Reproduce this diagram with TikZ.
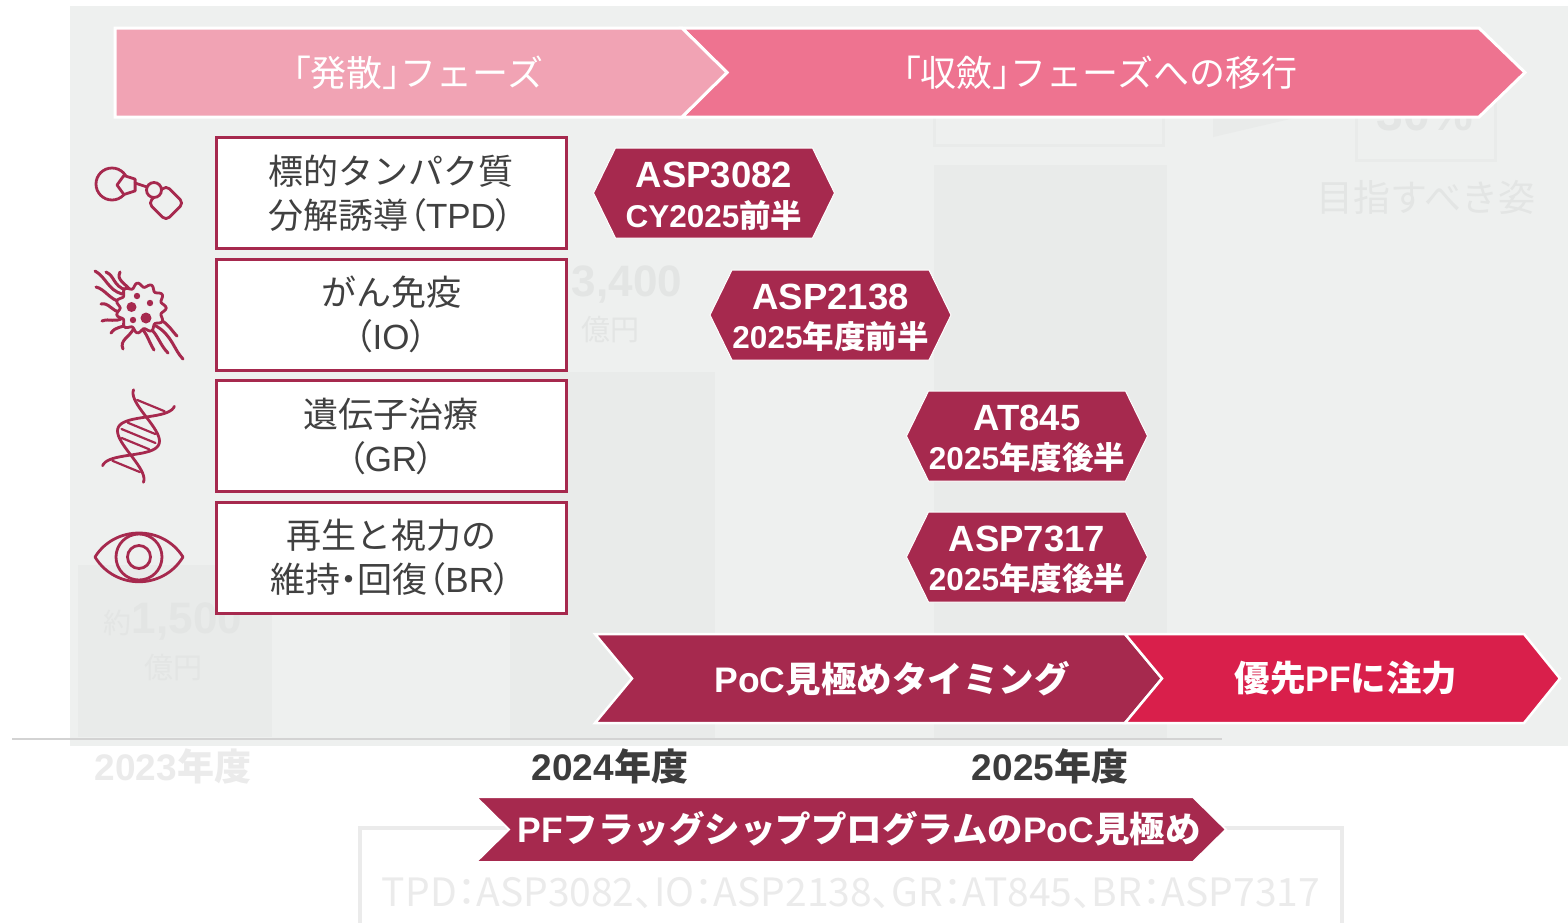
\documentclass[tikz,border=0pt]{standalone}
\usepackage{fontspec}
\setmainfont{Noto Sans CJK JP}
\newfontfamily\jpfont{Noto Sans CJK JP}
\newfontfamily\jppalt[RawFeature=+palt]{Noto Sans CJK JP}
\newfontfamily\latfont{Liberation Sans}
\usetikzlibrary{shapes.geometric}

\definecolor{panel}{HTML}{EEF0EF}
\definecolor{ghostfill}{HTML}{E9EBEA}
\definecolor{ghosttext}{HTML}{E3E5E4}
\definecolor{ghostwhite}{HTML}{EBEBEB}
\definecolor{lightpink}{HTML}{F1A3B4}
\definecolor{pink}{HTML}{EE7390}
\definecolor{maroon}{HTML}{A6294E}
\definecolor{signalred}{HTML}{D91F4B}
\definecolor{textgrey}{HTML}{404040}
\definecolor{yeargrey}{HTML}{3C3C3C}

\newcommand\LatB[1]{{\latfont\bfseries #1}}
\newcommand\Lat[1]{{\latfont #1}}
\newcommand\JpB[1]{{\jpfont\bfseries #1}}
\newcommand\pct[1]{{\jppalt #1}}
\newcommand\fsz[2]{\fontsize{#1}{#2}\selectfont}

% elongated hexagon tag with a two-line label
\newcommand\badge[5]{%
  \begin{scope}[shift={(#2,#3)}]
    \fill[maroon, draw=white, line width=1pt]
      (-120.5,0) -- (-98.5,-45) -- (98.5,-45) -- (120.5,0) -- (98.5,45) -- (-98.5,45) -- cycle;
    \node[badgetop] (#1a) at (0,-18) {#4};
    \node[badgebot] (#1b) at (0,22) {#5};
  \end{scope}}

\tikzset{
  icon/.style={draw=maroon, line width=2.8pt, line cap=round, line join=round},
  tentacle/.style={draw=maroon, line width=3pt, line cap=round},
  pfbox/.style={draw=maroon, line width=3pt, fill=white, minimum width=350pt,
    minimum height=111pt, inner sep=0pt, align=center, text=textgrey,
    font=\jpfont\fsz{35}{44}},
  bannertext/.style={text=white, inner sep=0pt, font=\jpfont\fsz{36}{40}},
  badgetop/.style={text=white, inner sep=0pt, font=\latfont\bfseries\fsz{36.5}{40}},
  badgebot/.style={text=white, inner sep=0pt, font=\fsz{31.5}{36}},
  chevtext/.style={text=white, inner sep=0pt, font=\fsz{35.5}{40}},
  yeartext/.style={text=yeargrey, inner sep=0pt, font=\fsz{37}{40}},
  ghost/.style={text=ghosttext, inner sep=0pt},
}

\begin{document}
\begin{tikzpicture}[x=1pt, y=-1pt]
\useasboundingbox (0,0) rectangle (1568,922);
\fill[white] (0,0) rectangle (1568,922);

% grey panel with faded background chart
\fill[panel] (70,6) rectangle (1568,746);
\fill[ghostfill] (78,565) rectangle (272,737);
\fill[ghostfill] (510,372) rectangle (715,740);
\fill[ghostfill] (934,165) rectangle (1167,740);
\fill[ghostfill] (1213,137) -- (1213,112) -- (1320,112) -- cycle;
\draw[ghostfill, line width=3pt] (934,90) rectangle (1163,145);
\draw[ghostfill, line width=3pt] (1356,95) rectangle (1495,160);
\node[ghost, font=\latfont\bfseries\fsz{48}{50}] (g30) at (1425,114) {30\%};
\node[ghost, font=\fsz{37}{40}] (ggoal) at (1426,197) {目指すべき姿};
\node[ghost, font=\latfont\bfseries\fsz{44}{48}] (g3400) at (627,285) {3,400};
\node[ghost, font=\fsz{29}{32}] (g3400u) at (610,330) {億円};
\node[ghost, font=\fsz{44}{48}] (g1500) at (173,622) {{\fsz{28}{30}約}\LatB{1,500}};
\node[ghost, font=\fsz{29}{32}] (g1500u) at (173,668) {億円};
\draw[line width=2pt, color=ghostwhite!90!black] (12,739) -- (1222,739);

% faded labels below the panel
\node[ghost, text=ghostwhite, font=\fsz{37}{40}] (g2023) at (173,766) {\LatB{2023}\JpB{年度}};
\draw[ghostwhite, line width=3.5pt] (360,828) rectangle (1342,940);
\node[ghost, text=ghostwhite, font=\jppalt\fsz{39}{42}] (gprog) at (851,893)
  {TPD：ASP3082、IO：ASP2138、GR：AT845、BR：ASP7317};

% phase banners
\fill[pink, draw=white, line width=3pt]
  (682,28) -- (1479,28) -- (1525,72.5) -- (1479,117) -- (682,117) -- (727,72.5) -- cycle;
\fill[lightpink, draw=white, line width=3pt]
  (115,28) -- (682,28) -- (727,72.5) -- (682,117) -- (115,117) -- cycle;
\node[bannertext] (ph1) at (418,73) {\pct{「}発散\pct{」}フェーズ};
\node[bannertext] (ph2) at (1100,73) {\pct{「}収斂\pct{」}フェーズへの移行};

% icon: protein degrader
\draw[icon] (112,184) circle[radius=16pt];
\draw[icon, fill=panel] (117,185) -- (123.9,194.5) -- (135.1,190.9) -- (135.1,179.1) -- (123.9,175.5) -- cycle;
\draw[icon] (135.1,183) -- (147,187);
\draw[icon, rounded corners=5pt, rotate around={45:(166,203)}] (153.5,190.5) rectangle (178.5,215.5);
\draw[icon, fill=panel] (154,190) circle[radius=7.5pt];

% icon: cancer cell
\draw[tentacle] (95,271) .. controls (106,277) and (108,290) .. (122,294);
\draw[tentacle] (106,272) .. controls (115,276) and (113,286) .. (126,290);
\draw[tentacle] (120,272) .. controls (116,280) and (125,283) .. (130,290);
\draw[tentacle] (96,287) .. controls (105,289) and (110,300) .. (121,302);
\draw[tentacle] (101,304) .. controls (109,302) and (112,312) .. (121,312);
\draw[tentacle] (102,321) .. controls (110,318) and (114,323) .. (123,318);
\draw[tentacle] (111,333) .. controls (116,326) and (122,328) .. (128,324);
\draw[tentacle] (123,349) .. controls (119,340) and (130,337) .. (134,328);
\draw[tentacle] (183,359) .. controls (174,350) and (172,335) .. (156,326);
\draw[tentacle] (168,353) .. controls (160,345) and (158,335) .. (150,328);
\draw[tentacle] (154,350) .. controls (149,342) and (148,336) .. (143,330);
\draw[tentacle] (177,336) .. controls (171,330) and (168,323) .. (160,320);
\draw[icon, fill=panel] plot[smooth cycle, samples=90, domain=0:356]
  ({141+(23+2.2*cos(11*\x))*cos(\x)},{308+(23+2.2*cos(11*\x))*sin(\x)});
\fill[maroon] (131.5,307) circle[radius=5pt];
\fill[maroon] (137,296) circle[radius=3.2pt];
\fill[maroon] (150,303) circle[radius=3.2pt];
\fill[maroon] (133,320) circle[radius=3.2pt];
\fill[maroon] (146,318) circle[radius=5.5pt];

% icon: DNA double helix
\draw[icon] plot[smooth, samples=40, domain=0:1]
  ({123+31*\x+20.4*cos(360*\x)},{474-76*\x+8.3*cos(360*\x)});
\draw[icon] plot[smooth, samples=40, domain=0:1]
  ({123+31*\x-20.4*cos(360*\x)},{474-76*\x-8.3*cos(360*\x)});
\foreach \t in {0.1,0.4,0.5,0.6,0.9}
  \draw[icon, line width=2.2pt]
    ({123+31*\t+17*cos(360*\t)},{474-76*\t+7*cos(360*\t)}) --
    ({123+31*\t-17*cos(360*\t)},{474-76*\t-7*cos(360*\t)});

% icon: eye
\draw[icon] (95,557) .. controls (115,525) and (163,525) .. (183,557)
  .. controls (163,590) and (115,590) .. (95,557) -- cycle;
\draw[icon] (139,557) circle[radius=23pt];
\draw[icon] (139,557) circle[radius=11.5pt];

% platform boxes
\node[pfbox] (tpd) at (391,193) {標的タンパク質\\分解誘導\pct{（}\Lat{TPD}\pct{）}};
\node[pfbox] (io) at (391,314.5) {がん免疫\\\pct{（}\Lat{IO}\pct{）}};
\node[pfbox] (gr) at (391,436) {遺伝子治療\\\pct{（}\Lat{GR}\pct{）}};
\node[pfbox] (br) at (391,557.5) {再生と視力の\\維持\pct{・}回復\pct{（}\Lat{BR}\pct{）}};

% programme tags
\badge{asp3082}{714}{193}{ASP3082}{\LatB{CY2025}\JpB{前半}}
\badge{asp2138}{830.5}{315}{ASP2138}{\LatB{2025}\JpB{年度前半}}
\badge{at845}{1027}{436}{AT845}{\LatB{2025}\JpB{年度後半}}
\badge{asp7317}{1027}{557}{ASP7317}{\LatB{2025}\JpB{年度後半}}

% timing chevrons
\fill[maroon, draw=white, line width=2.5pt]
  (595,634) -- (1125,634) -- (1162,678.5) -- (1125,723) -- (595,723) -- (632,678.5) -- cycle;
\fill[signalred, draw=white, line width=2.5pt]
  (1125,634) -- (1524,634) -- (1560,678.5) -- (1524,723) -- (1125,723) -- (1162,678.5) -- cycle;
\node[chevtext] (poc) at (892,679) {\LatB{PoC}\JpB{見極めタイミング}};
\node[chevtext] (focus) at (1346,678) {\JpB{優先}\LatB{PF}\JpB{に注力}};

% fiscal years
\node[yeartext] (fy2024) at (610,766) {\LatB{2024}\JpB{年度}};
\node[yeartext] (fy2025) at (1050,766) {\LatB{2025}\JpB{年度}};

% flagship programme banner
\fill[maroon, draw=white, line width=2pt]
  (476,797) -- (1193,797) -- (1226,829.5) -- (1193,862) -- (476,862) -- (509,829.5) -- cycle;
\node[chevtext] (flagship) at (859,829)
  {\LatB{PF}\JpB{フラッグシッププログラムの}\LatB{PoC}\JpB{見極め}};
\end{tikzpicture}
\end{document}
